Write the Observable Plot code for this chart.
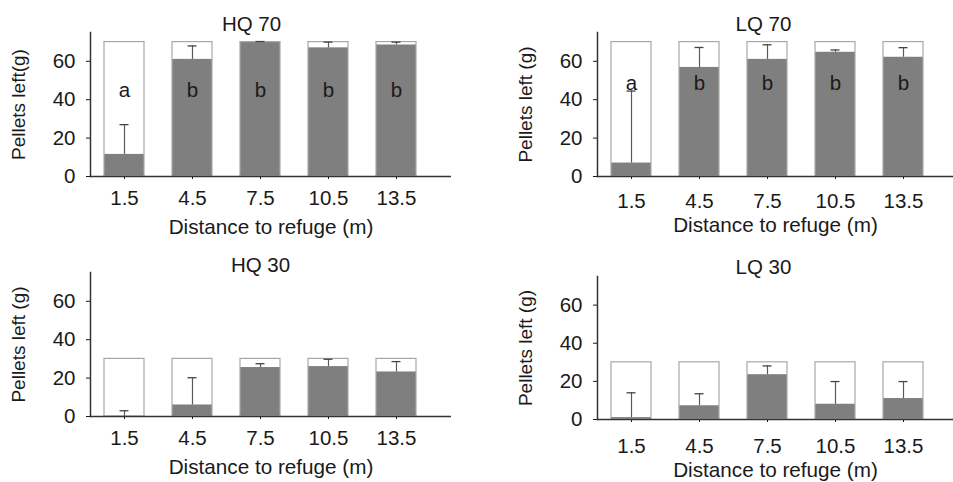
<!DOCTYPE html>
<html>
<head>
<meta charset="utf-8">
<script src="https://cdn.jsdelivr.net/npm/d3@7"></script>
<script src="https://cdn.jsdelivr.net/npm/@observablehq/plot@0.6"></script>
<style>
  body { margin: 0; background: #fff; }
  #wrap { position: relative; width: 953px; height: 482px; background: #fff; overflow: hidden; }
  #wrap > svg { position: absolute; }
</style>
</head>
<body>
<div id="wrap"></div>
<script>
// ---- data ----
const categories = ["1.5", "4.5", "7.5", "10.5", "13.5"];
const panelTitles = ["HQ 70", "LQ 70", "HQ 30", "LQ 30"];
const offered = [70, 70, 30, 30];           // amount of pellets offered (g)
const hq70Mean = [11.5, 61, 70, 67, 68.5];
const hq70SE   = [15.5, 7, 0.3, 3, 1.5];
const lq70Mean = [7, 56.8, 61, 64.7, 62.1];
const lq70SE   = [37.5, 10.4, 7.6, 1.2, 5];
const hq30Mean = [0, 6, 25.5, 26, 23.2];
const hq30SE   = [3, 14.2, 2, 3.8, 5.4];
const lq30Mean = [1, 7.2, 23.5, 8, 11];
const lq30SE   = [13, 6.3, 4.6, 11.9, 8.9];
const letters70 = ["a", "b", "b", "b", "b"];
const yTicks = [0, 20, 40, 60];
const yLabels = ["Pellets left(g)", "Pellets left (g)", "Pellets left (g)", "Pellets left (g)"];
const xLabel = "Distance to refuge (m)";

// ---- layout (pixel geometry, styles) ----
const layouts = [
  {left: 0,   top: 0,   w: 476, h: 241, ax: 90,  rEnd: 430, axEnd: 451, yTop: 32, yZero: 176, tx: 251, ty: 24, xt: 227, yl: 18, tp: 11, letterY: 45},
  {left: 476, top: 0,   w: 477, h: 241, ax: 121, rEnd: 461, axEnd: 477, yTop: 32, yZero: 176, tx: 287, ty: 24, xt: 225, yl: 49, tp: 14, letterY: 48.5},
  {left: 0,   top: 241, w: 476, h: 241, ax: 90,  rEnd: 430, axEnd: 451, yTop: 31, yZero: 175, tx: 260, ty: 23.5, xt: 226, yl: 18, tp: 11},
  {left: 476, top: 241, w: 477, h: 241, ax: 121, rEnd: 461, axEnd: 477, yTop: 35, yZero: 178, tx: 287, ty: 25.5, xt: 229, yl: 49, tp: 16}
];

const means = [hq70Mean, lq70Mean, hq30Mean, lq30Mean];
const ses = [hq70SE, lq70SE, hq30SE, lq30SE];
const lettersByPanel = [letters70, letters70, null, null];

const wrap = document.getElementById("wrap");
const txt = {textAnchor: "middle", lineAnchor: "middle", fill: "#1a1a1a"};

layouts.forEach((L, i) => {
  const rows = categories.map((c, j) => ({
    cat: c,
    total: offered[i],
    mean: means[i][j],
    top: means[i][j] + ses[i][j],
    letter: lettersByPanel[i] ? lettersByPanel[i][j] : null
  }));
  const marks = [
    Plot.barY(rows, {x: "cat", y: "total", fill: "#fff"}),
    Plot.barY(rows, {x: "cat", y: "mean", fill: "#7f7f7f"}),
    Plot.barY(rows, {x: "cat", y: "total", fill: "none", stroke: "#a8a8a8", strokeWidth: 1.2}),
    Plot.ruleX(rows, {x: "cat", y1: "mean", y2: "top", stroke: "#5a5a5a", strokeWidth: 1.2}),
    Plot.tickY(rows, {x: "cat", y: "top", stroke: "#444", strokeWidth: 1.3, insetLeft: 15.5, insetRight: 15.5}),
    Plot.ruleY([0], {stroke: "#333", strokeWidth: 1.5}),
    Plot.frame({anchor: "left", stroke: "#333", strokeWidth: 1.5}),
    Plot.text([panelTitles[i]], {...txt, frameAnchor: "top-left", dx: L.tx - L.ax, dy: L.ty - L.yTop, fontSize: 20.5}),
    Plot.text([xLabel], {...txt, frameAnchor: "bottom", dy: L.xt - L.yZero, fontSize: 20.7}),
    Plot.text([yLabels[i]], {...txt, frameAnchor: "left", dx: L.yl - L.ax, rotate: -90, fontSize: 19})
  ];
  if (lettersByPanel[i]) {
    marks.push(Plot.text(rows, {...txt, x: "cat", y: () => L.letterY, text: "letter", fontSize: 20.5}));
  }
  const svg = Plot.plot({
    width: L.w,
    height: L.h,
    marginLeft: L.ax,
    marginRight: L.w - L.axEnd,
    marginTop: L.yTop,
    marginBottom: L.h - L.yZero,
    style: {fontFamily: "'Liberation Sans', Arial, sans-serif", fontSize: "20.5px", color: "#1a1a1a", background: "transparent", overflow: "visible"},
    x: {type: "band", domain: categories, range: [L.ax, L.rEnd], paddingInner: 0.41, paddingOuter: 0.205, label: null, tickSize: 3, tickPadding: L.tp},
    y: {domain: [0, 75], ticks: yTicks, label: null, tickSize: 4, tickPadding: 11},
    marks
  });
  svg.style.left = L.left + "px";
  svg.style.top = L.top + "px";
  wrap.appendChild(svg);
});
</script>
</body>
</html>
